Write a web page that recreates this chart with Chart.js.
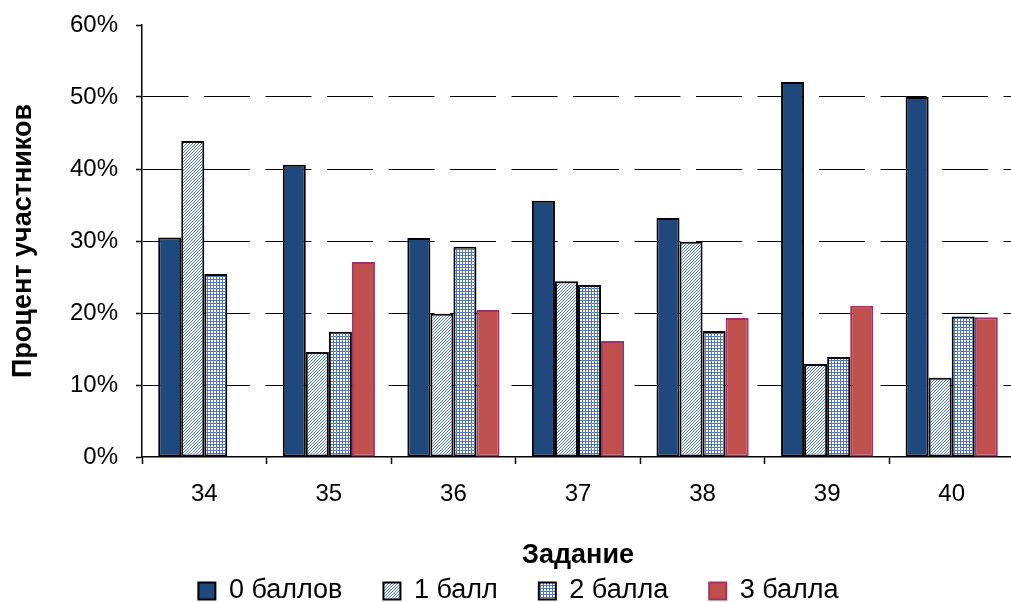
<!DOCTYPE html>
<html>
<head>
<meta charset="utf-8">
<script src="https://cdn.jsdelivr.net/npm/chart.js@4.4.1/dist/chart.umd.min.js"></script>
<style>
  html, body { margin: 0; padding: 0; background: #fff; overflow: hidden; }
  #wrap { width: 1014px; height: 602px; }
</style>
</head>
<body>
<div id="wrap"><canvas id="chart" width="1014" height="602"></canvas></div>
<script>
// Tasks (x axis) and share of participants per score, in percent
const tasks = ['34', '35', '36', '37', '38', '39', '40'];
const score0 = [30.5, 40.6, 30.4, 35.6, 33.2, 52.1, 50.0];
const score1 = [43.9, 14.6, 19.9, 24.4, 29.9, 12.9, 11.0];
const score2 = [25.4, 17.4, 29.2, 23.9, 17.5, 13.9, 19.5];
const score3 = [null, 27.1, 20.4, 16.1, 19.3, 21.0, 19.4];
const seriesNames = ['0 баллов', '1 балл', '2 балла', '3 балла'];
const yTicks = [0, 10, 20, 30, 40, 50, 60];

const FONT = 'Arial, "Liberation Sans", sans-serif';

// Fine fill textures for the hatched series
function makePattern(kind) {
  const c = document.createElement('canvas');
  const s = 3;
  c.width = s; c.height = s;
  const g = c.getContext('2d');
  g.fillStyle = '#ffffff';
  g.fillRect(0, 0, s, s);
  if (kind === 'diag') {
    g.fillStyle = '#4a78b8';
    for (let i = 0; i < s; i++) g.fillRect(i, s - 1 - i, 1, 1);
  } else {
    g.fillStyle = '#5678b0';
    g.fillRect(0, 0, s, 1);
    g.fillRect(0, 0, 1, s);
  }
  return g.createPattern(c, 'repeat');
}

const pDiag = makePattern('diag');
const pGrid = makePattern('grid');

const datasets = [
  { label: seriesNames[0], data: score0, backgroundColor: '#1f497d', borderColor: '#000000' },
  { label: seriesNames[1], data: score1, backgroundColor: pDiag, borderColor: '#000000' },
  { label: seriesNames[2], data: score2, backgroundColor: pGrid, borderColor: '#000000' },
  { label: seriesNames[3], data: score3, backgroundColor: '#c0504d', borderColor: '#a03264' }
].map(d => Object.assign(d, {
  borderWidth: 2,
  borderSkipped: false,
  categoryPercentage: 0.74,
  barPercentage: 1.0
}));

// Legend row sits low under the axis title: keep its layout box short
// and draw the row with its own label padding lifted above that box.
const LEGEND_BOX_H = 24.5;
const LEGEND_SHIFT_X = 8.5;
const legendPlacement = {
  id: 'legendPlacement',
  beforeUpdate(chart) {
    const lg = chart.legend;
    if (!lg || lg._placed) return;
    lg._placed = true;
    const fit = lg.fit.bind(lg);
    lg.fit = function () { fit(); this.height = LEGEND_BOX_H; };
    const draw = lg.draw.bind(lg);
    lg.draw = function () {
      const p = this.options.labels.padding;
      const t = this.top, l = this.left, r = this.right;
      this.top = t - p; this.left = l + LEGEND_SHIFT_X; this.right = r + LEGEND_SHIFT_X;
      draw();
      this.top = t; this.left = l; this.right = r;
    };
  }
};

new Chart(document.getElementById('chart'), {
  type: 'bar',
  data: { labels: tasks, datasets },
  plugins: [legendPlacement],
  options: {
    responsive: false,
    animation: false,
    layout: { padding: { top: 25, right: 0, left: 6, bottom: 0 } },
    plugins: {
      tooltip: { enabled: false },
      legend: {
        position: 'bottom',
        labels: {
          color: '#000',
          font: { family: FONT, size: 27 },
          boxWidth: 17,
          boxHeight: 17,
          padding: 41
        }
      }
    },
    scales: {
      x: {
        offset: true,
        afterFit: s => { s.height = 602 - LEGEND_BOX_H - 457; },
        grid: {
          offset: true,
          drawOnChartArea: false,
          tickLength: 7,
          tickColor: '#000',
          tickWidth: 1.5
        },
        border: { color: '#000', width: 1.5 },
        ticks: { color: '#000', font: { family: FONT, size: 24 }, padding: 16 },
        title: {
          display: true,
          text: 'Задание',
          color: '#000',
          font: { family: FONT, size: 27, weight: 'bold' },
          padding: { top: 10, bottom: 6 }
        }
      },
      y: {
        min: 0,
        max: 60,
        afterFit: s => { s.width = 136; s.paddingTop = 0; },
        afterBuildTicks: s => { s.ticks = yTicks.map(v => ({ value: v })); },
        grid: {
          color: c => (c.tick && (c.tick.value === 0 || c.tick.value === 60)) ? 'rgba(0,0,0,0)' : '#000',
          lineWidth: 1,
          tickColor: '#000',
          tickLength: 6,
          tickWidth: 1.5
        },
        border: { color: '#000', width: 1.5, dash: [46, 15.5] },
        ticks: {
          color: '#000',
          font: { family: FONT, size: 24 },
          padding: 18,
          callback: v => v + '%'
        },
        title: {
          display: true,
          text: 'Процент участников',
          color: '#000',
          font: { family: FONT, size: 27, weight: 'bold' },
          padding: { top: 1, bottom: 0 }
        }
      }
    }
  }
});
</script>
</body>
</html>
